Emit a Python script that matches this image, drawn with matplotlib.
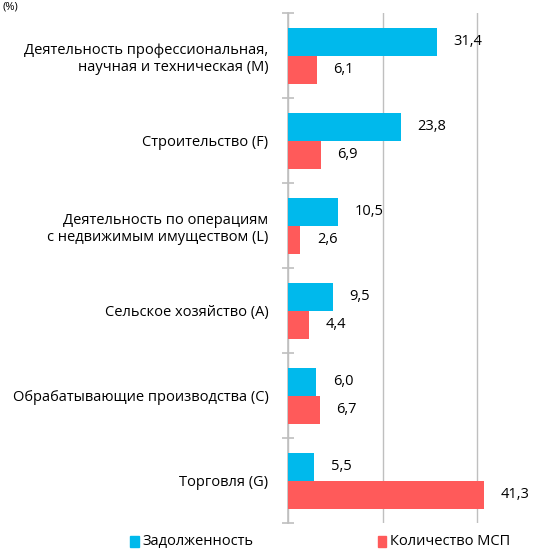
import matplotlib.pyplot as plt
import numpy as np

plt.rcParams['font.family'] = ['Open Sans', 'DejaVu Sans']

categories = [
    "Деятельность профессиональная,\nнаучная и техническая (M)",
    "Строительство (F)",
    "Деятельность по операциям\nс недвижимым имуществом (L)",
    "Сельское хозяйство (A)",
    "Обрабатывающие производства (C)",
    "Торговля (G)",
]
debt = [31.4, 23.8, 10.5, 9.5, 6.0, 5.5]
count_msp = [6.1, 6.9, 2.6, 4.4, 6.7, 41.3]
series_names = ["Задолженность", "Количество МСП"]

blue = "#00B9EC"
red = "#FF5A5A"

fig = plt.figure(figsize=(5.59, 5.49), dpi=100)
ax = fig.add_axes([0.515, 0.047, 0.424, 0.929])

y = np.arange(len(categories))
h = 0.33
ax.barh(y - h / 2, debt, height=h, color=blue, zorder=3)
ax.barh(y + h / 2, count_msp, height=h, color=red, zorder=3)

for yi, v in zip(y, debt):
    ax.annotate(f"{v:.1f}".replace(".", ","), (v, yi - h / 2), xytext=(12, 0),
                textcoords="offset points", va="center", ha="left", fontsize=10.5)
for yi, v in zip(y, count_msp):
    ax.annotate(f"{v:.1f}".replace(".", ","), (v, yi + h / 2), xytext=(12, 0),
                textcoords="offset points", va="center", ha="left", fontsize=10.5)

ax.set_xlim(0, 50)
ax.set_ylim(len(categories) - 0.5, -0.5)
ax.set_xticks([0, 20, 40])
ax.xaxis.grid(True, color="#BFBFBF", lw=1, zorder=0)
ax.tick_params(axis="x", length=0, labelbottom=False)

ax.set_yticks(np.arange(-0.5, len(categories), 1), minor=False)
ax.set_yticklabels([])
ax.set_yticks(y, minor=True)
ax.set_yticklabels(categories, minor=True, fontsize=10.5, ha="right")
ax.tick_params(axis="y", which="major", length=8, direction="inout", color="#BFBFBF", width=1.2)
ax.tick_params(axis="y", which="minor", length=0, pad=14)

for s in ["top", "right", "bottom"]:
    ax.spines[s].set_visible(False)
ax.spines["left"].set_color("#BFBFBF")
ax.spines["left"].set_linewidth(1.2)

fig.text(0.005, 0.998, "(%)", fontsize=8, va="top", ha="left")

# legend
fig.patches.append(plt.Rectangle((0.233, 0.003), 0.015, 0.02, color=blue, transform=fig.transFigure))
fig.text(0.255, 0.014, series_names[0], fontsize=10.5, va="center", ha="left")
fig.patches.append(plt.Rectangle((0.676, 0.003), 0.015, 0.02, color=red, transform=fig.transFigure))
fig.text(0.698, 0.014, series_names[1], fontsize=10.5, va="center", ha="left")

plt.savefig("out.png", dpi=100)
